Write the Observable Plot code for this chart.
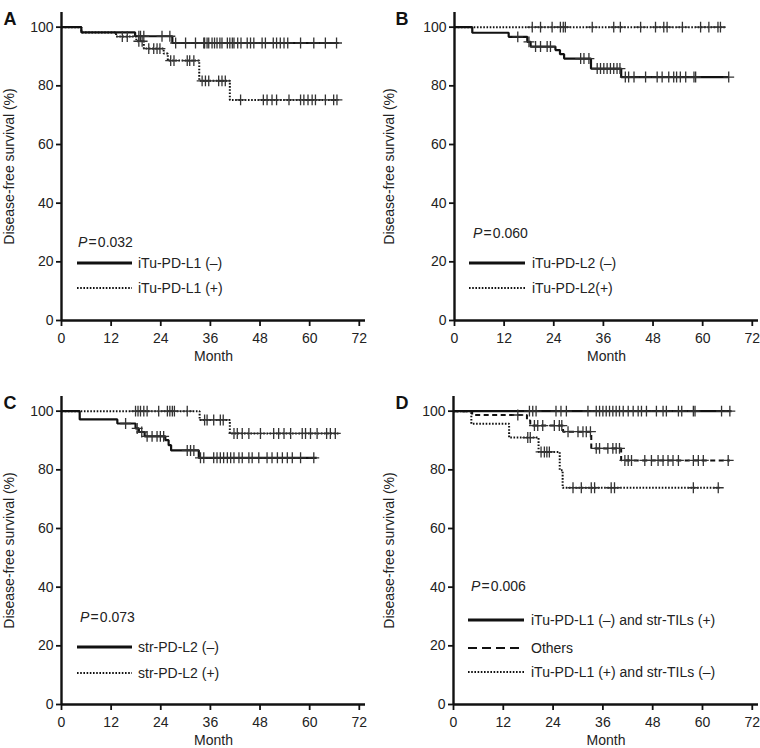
<!DOCTYPE html>
<html><head><meta charset="utf-8">
<script src="https://cdn.jsdelivr.net/npm/d3@7"></script>
<script src="https://cdn.jsdelivr.net/npm/@observablehq/plot@0.6"></script>
<style>
body{margin:0;background:#fff;}
#root{position:relative;width:760px;height:748px;font-family:"Liberation Sans",Arial,Helvetica,sans-serif;color:#222;background:#fff;}
.panel{position:absolute;width:380px;height:370px;}
.leg{position:absolute;font-size:14px;white-space:nowrap;line-height:14px;}
.leg svg{position:absolute;}
</style></head><body><div id="root"></div>
<script>
// ---------- data ----------
const xTicks = [0, 12, 24, 36, 48, 60, 72];
const yTicks = [0, 20, 40, 60, 80, 100];
const xLabel = "Month";
const yLabel = "Disease-free survival (%)";
const panelLetters = ["A", "B", "C", "D"];
const pValues = ["0.032", "0.060", "0.073", "0.006"];

// Panel A
const A_names = ["iTu-PD-L1 (\u2013)", "iTu-PD-L1 (+)"];
const A_neg_t = [0, 4.8, 17.8, 26.8, 67.0];
const A_neg_s = [100, 98.2, 96.9, 94.6, 94.6];
const A_neg_c = [18.7, 19.1, 19.9, 24.3, 26.2, 27.6, 30.0, 32.4, 34.4, 34.6, 35.2, 35.6, 36.4, 37.0, 37.6, 38.3, 38.8, 40.1, 40.7, 41.3, 41.7, 42.6, 43.4, 44.9, 45.7, 46.5, 48.5, 49.3, 51.2, 52.0, 52.9, 53.8, 54.7, 57.8, 61.0, 63.8, 66.5];
const A_pos_t = [0, 4.8, 13.2, 18.1, 19.9, 24.7, 25.7, 33.3, 40.7, 66.6];
const A_pos_s = [100, 98.2, 96.8, 95.2, 92.7, 91.0, 88.6, 81.7, 75.2, 75.2];
const A_pos_c = [14.7, 15.9, 18.7, 19.5, 21.1, 22.3, 23.1, 23.8, 26.4, 27.2, 30.4, 31.0, 32.0, 34.0, 34.8, 35.6, 38.0, 38.8, 39.6, 43.3, 48.8, 49.7, 50.9, 52.0, 55.0, 57.8, 58.6, 59.6, 60.6, 61.4, 63.8, 65.8, 66.6];

// Panel B
const B_names = ["iTu-PD-L2 (\u2013)", "iTu-PD-L2(+)"];
const B_neg_t = [0, 4.3, 13.1, 17.6, 18.4, 24.4, 25.5, 26.5, 33.0, 40.3, 66.3];
const B_neg_s = [100, 98.1, 96.7, 95.0, 93.4, 92.2, 90.8, 89.3, 85.9, 83.0, 83.0];
const B_neg_c = [15.3, 18.0, 19.6, 20.8, 22.4, 23.2, 30.5, 31.3, 32.5, 34.5, 35.3, 36.1, 36.9, 37.7, 38.5, 39.3, 40.0, 41.3, 42.1, 43.4, 46.2, 49.0, 50.2, 51.8, 53.0, 53.7, 54.6, 55.9, 57.9, 58.3, 66.3];
const B_pos_t = [0, 65.4];
const B_pos_s = [100, 100];
const B_pos_c = [18.8, 20.8, 23.6, 25.6, 26.3, 26.8, 33.3, 38.5, 40.1, 45.0, 48.6, 50.6, 51.4, 55.1, 59.5, 61.5, 63.7, 64.3];

// Panel C
const C_names = ["str-PD-L2 (\u2013)", "str-PD-L2 (+)"];
const C_neg_t = [0, 4.4, 13.5, 17.9, 18.7, 20.1, 25.1, 25.9, 26.5, 33.2, 61.7];
const C_neg_s = [100, 97.2, 95.8, 94.1, 92.9, 91.4, 90.1, 88.4, 86.6, 84.1, 84.1];
const C_neg_c = [15.5, 18.3, 19.4, 20.7, 21.9, 23.1, 23.9, 24.7, 30.4, 31.2, 32.0, 33.6, 34.4, 36.8, 37.6, 38.4, 39.2, 40.1, 40.9, 41.7, 42.9, 43.7, 45.3, 46.1, 47.7, 49.7, 50.9, 52.2, 53.4, 54.6, 55.8, 57.8, 61.0];
const C_pos_t = [0, 33.4, 40.7, 67.0];
const C_pos_s = [100, 97.0, 92.4, 92.4];
const C_pos_c = [17.9, 18.5, 19.1, 19.9, 20.7, 23.5, 25.6, 26.2, 26.8, 27.3, 30.4, 34.6, 35.2, 36.8, 38.4, 39.1, 41.7, 42.5, 43.7, 45.3, 48.1, 51.3, 52.5, 53.8, 55.4, 58.2, 59.0, 60.2, 61.8, 64.1, 65.0, 66.2];

// Panel D
const D_names = ["iTu-PD-L1 (\u2013) and str-TILs (+)", "Others", "iTu-PD-L1 (+) and str-TILs (\u2013)"];
const D_best_t = [0, 67.0];
const D_best_s = [100, 100];
const D_best_c = [18.3, 19.1, 19.9, 24.7, 25.9, 27.2, 32.4, 34.4, 35.2, 36.0, 36.8, 37.6, 38.4, 39.2, 40.0, 40.9, 42.1, 43.3, 44.5, 45.3, 46.5, 48.9, 50.5, 51.3, 54.2, 55.0, 57.8, 58.2, 64.6, 66.6];
const D_oth_t = [0, 4.5, 17.7, 18.5, 26.4, 33.2, 40.4, 66.6];
const D_oth_s = [100, 98.7, 96.8, 95.1, 93.0, 87.3, 83.2, 83.2];
const D_oth_c = [15.5, 19.5, 20.3, 21.5, 24.3, 25.5, 26.1, 27.6, 30.0, 31.2, 32.0, 33.0, 34.4, 35.2, 37.2, 38.4, 39.2, 40.0, 41.3, 42.1, 42.9, 46.1, 47.7, 49.3, 50.5, 51.7, 52.9, 54.2, 57.8, 59.0, 60.2, 66.2];
const D_wor_t = [0, 4.3, 13.4, 20.5, 25.6, 26.3, 64.2];
const D_wor_s = [100, 95.7, 91.0, 86.1, 79.9, 73.9, 73.9];
const D_wor_c = [17.9, 18.5, 21.1, 21.9, 22.5, 23.1, 28.8, 30.8, 33.2, 34.0, 38.0, 38.8, 57.8, 63.8];

// ---------- styles & layout ----------
const lineStyles = {
  solid:  {stroke: "#111", strokeWidth: 2.2, strokeDasharray: null},
  dotted: {stroke: "#111", strokeWidth: 2, strokeDasharray: "1.6,1.6"},
  dashed: {stroke: "#111", strokeWidth: 2, strokeDasharray: "5,3.5"}
};

const panels = [
  {left: 0, top: 0, ml: 61, mr: 15, series: [[A_neg_t, A_neg_s, A_neg_c, "solid"], [A_pos_t, A_pos_s, A_pos_c, "dotted"]], names: A_names,
   leg: {px: 78, py: 242, lx: 77, lw: 55, tx: 138, rows: [263, 288]}},
  {left: 380, top: 0, ml: 74, mr: 2, series: [[B_neg_t, B_neg_s, B_neg_c, "solid"], [B_pos_t, B_pos_s, B_pos_c, "dotted"]], names: B_names,
   leg: {px: 93, py: 233, lx: 89, lw: 56, tx: 152, rows: [263, 288]}},
  {left: 0, top: 384, ml: 61, mr: 15, series: [[C_neg_t, C_neg_s, C_neg_c, "solid"], [C_pos_t, C_pos_s, C_pos_c, "dotted"]], names: C_names,
   leg: {px: 80, py: 233, lx: 77, lw: 55, tx: 138, rows: [263, 289]}},
  {left: 380, top: 384, ml: 73, mr: 2, series: [[D_best_t, D_best_s, D_best_c, "solid"], [D_oth_t, D_oth_s, D_oth_c, "dashed"], [D_wor_t, D_wor_s, D_wor_c, "dotted"]], names: D_names,
   leg: {px: 91, py: 202, lx: 88, lw: 56, tx: 151, rows: [236, 264, 288]}}
];

function survAt(ts, ss, t) {
  let s = ss[0];
  for (let i = 0; i < ts.length; i++) if (ts[i] <= t) s = ss[i];
  return s;
}

const root = document.getElementById("root");

panels.forEach((p, pi) => {
  const marks = [];
  p.series.forEach(([ts, ss, cs, style]) => {
    const pts = ts.map((t, i) => ({t, s: ss[i]}));
    const st = lineStyles[style];
    marks.push(Plot.line(pts, {x: "t", y: "s", curve: "step-after", stroke: st.stroke, strokeWidth: st.strokeWidth, strokeDasharray: st.strokeDasharray, strokeLinecap: "butt", strokeLinejoin: "miter"}));
    const cens = cs.map(t => ({t, s: survAt(ts, ss, t)}));
    marks.push(Plot.dot(cens, {x: "t", y: "s", symbol: "plus", r: 3.6, stroke: "#333", strokeWidth: 1.3}));
  });

  const chart = Plot.plot({
    width: 380, height: 370,
    marginLeft: p.ml, marginRight: p.mr, marginTop: 12, marginBottom: 50,
    x: {domain: [0, 73.5]},
    y: {domain: [0, 105]},
    style: {fontFamily: "'Liberation Sans', Arial, Helvetica, sans-serif", fontSize: "14px", color: "#222", background: "transparent", overflow: "visible"},
    marks: [
      Plot.axisX(xTicks, {tickSize: 6, tickPadding: 7, label: null, fontSize: 14, strokeWidth: 1.8, stroke: "#111"}),
      Plot.axisY(yTicks, {tickSize: 5, tickPadding: 3, label: null, fontSize: 14, strokeWidth: 1.8, stroke: "#111"}),
      Plot.ruleX([0], {stroke: "#111", strokeWidth: 2.4}),
      Plot.ruleY([0], {stroke: "#111", strokeWidth: 2.4}),
      ...marks,
      Plot.text([xLabel], {frameAnchor: "bottom", dy: 40, fontSize: 14, fill: "#222"}),
      Plot.text([yLabel], {frameAnchor: "left", textAnchor: "middle", dx: -(p.ml - 9), rotate: -90, fontSize: 14, fill: "#222"}),
      Plot.text([panelLetters[pi]], {frameAnchor: "top-left", textAnchor: "start", dx: -(p.ml - (pi % 2 ? 15 : 3)), dy: 0, fontSize: 18, fontWeight: "bold", fill: "#111"})
    ]
  });

  const div = document.createElement("div");
  div.className = "panel";
  div.style.left = p.left + "px";
  div.style.top = p.top + "px";
  div.appendChild(chart);

  // legend overlay
  const L = p.leg;
  const ptxt = document.createElement("div");
  ptxt.className = "leg";
  ptxt.style.left = L.px + "px";
  ptxt.style.top = (L.py - 7) + "px";
  ptxt.innerHTML = "<i>P</i>\u200A=\u200A" + pValues[pi];
  div.appendChild(ptxt);
  p.series.forEach((s, i) => {
    const st = lineStyles[s[3]];
    const ns = "http://www.w3.org/2000/svg";
    const svg = document.createElementNS(ns, "svg");
    svg.setAttribute("width", L.lw); svg.setAttribute("height", 6);
    svg.style.position = "absolute";
    svg.style.left = L.lx + "px";
    svg.style.top = (L.rows[i] - 3) + "px";
    const ln = document.createElementNS(ns, "line");
    ln.setAttribute("x1", 0); ln.setAttribute("x2", L.lw);
    ln.setAttribute("y1", 3); ln.setAttribute("y2", 3);
    ln.setAttribute("stroke", st.stroke);
    ln.setAttribute("stroke-width", s[3] === "solid" ? 2.8 : st.strokeWidth);
    if (st.strokeDasharray) ln.setAttribute("stroke-dasharray", s[3] === "dashed" ? "9,5" : st.strokeDasharray);
    svg.appendChild(ln);
    div.appendChild(svg);
    const t = document.createElement("div");
    t.className = "leg";
    t.style.left = L.tx + "px";
    t.style.top = (L.rows[i] - 7) + "px";
    t.textContent = p.names[i];
    div.appendChild(t);
  });

  root.appendChild(div);
});
</script>
</body></html>
